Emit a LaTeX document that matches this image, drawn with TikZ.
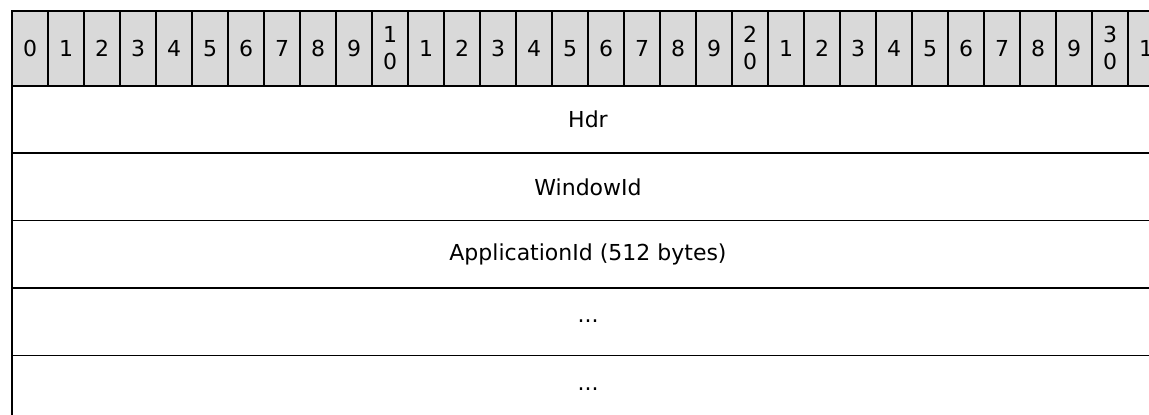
\documentclass[tikz,border=0pt]{standalone}
\usepackage{fontspec}
\setmainfont{DejaVu Sans}
\usetikzlibrary{positioning}

\tikzset{
  bitcell/.style={draw, line width=1.6pt, fill=black!15, minimum width=36pt,
    minimum height=74.7pt, inner sep=0pt, outer sep=0pt, anchor=north west,
    align=center, font=\fontsize{22}{27}\selectfont},
  fieldrow/.style={draw, line width=1.6pt, minimum width=1152pt,
    minimum height=67.4pt, inner sep=0pt, outer sep=0pt,
    font=\fontsize{22}{27}\selectfont}
}

\begin{document}
\begin{tikzpicture}[x=1pt,y=1pt]
\useasboundingbox (0,0) rectangle (1149,-415);
\clip (0,0) rectangle (1149,-415);
% bit numbers
\foreach \i in {0,...,31}{
  \pgfmathtruncatemacro\d{mod(\i,10)}
  \pgfmathtruncatemacro\t{\i/10}
  \ifnum\d=0 \ifnum\i>0
    \node[bitcell] (b\i) at ({12+36*\i},-11) {\t\\0};
  \else
    \node[bitcell] (b\i) at ({12+36*\i},-11) {\d};
  \fi\else
    \node[bitcell] (b\i) at ({12+36*\i},-11) {\d};
  \fi
}
% fields
\node[fieldrow, anchor=north west] (hdr) at (b0.south west) {Hdr};
\node[fieldrow, below=0pt of hdr] (windowid) {WindowId};
\node[fieldrow, below=0pt of windowid] (applicationid) {ApplicationId (512 bytes)};
\node[fieldrow, below=0pt of applicationid] (more1) {...};
\node[fieldrow, below=0pt of more1] (more2) {...};
\end{tikzpicture}
\end{document}
